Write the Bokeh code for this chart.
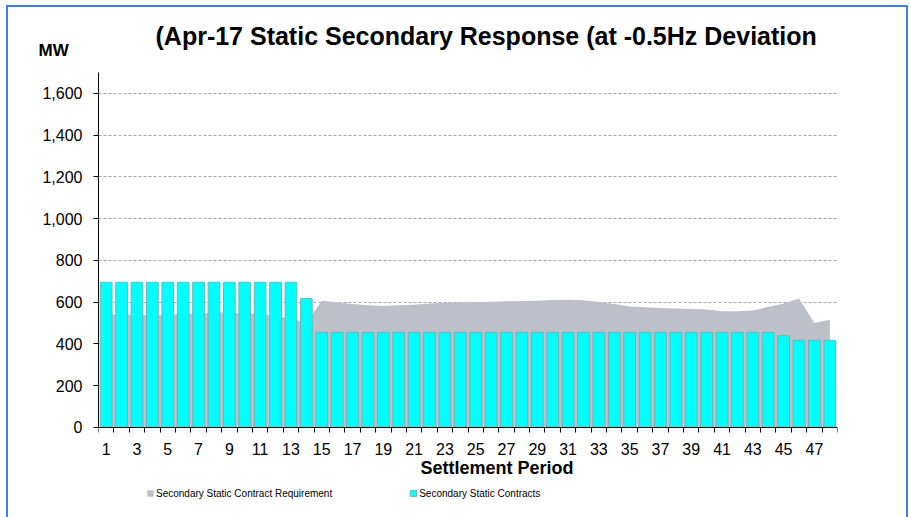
from bokeh.plotting import figure
from bokeh.models import (ColumnDataSource, FixedTicker, NumeralTickFormatter, Legend,
                          LegendItem, Title, Range1d, Label)
from bokeh.embed import file_html
from bokeh.resources import INLINE

periods = list(range(1, 49))
requirement = [540, 542, 539, 536, 540, 544, 545, 549, 551, 545, 544, 535, 522, 500,
               607, 600, 591, 585, 581, 585, 588, 593, 597, 599, 600, 602, 604, 605,
               607, 610, 611, 609, 601, 591, 579, 575, 572, 569, 567, 565, 556, 556,
               560, 577, 593, 617, 500, 516]
contracts = [695] * 13 + [617] + [455] * 30 + [439] + [417] * 3
x_tick_labels = list(range(1, 49, 2))
y_ticks = list(range(0, 1601, 200))

title_text = "(Apr-17 Static Secondary Response (at -0.5Hz Deviation"
series_names = ["Secondary Static Contract Requirement", "Secondary Static Contracts"]

src = ColumnDataSource(dict(x=periods, req=requirement, con=contracts))

# frame extends below the value axis so the axis title and legend can live inside it
FRAME_H = 440
PLOT_H = 334          # pixels between 0 and 1600
Y_TOP = 1700
y_start = Y_TOP - FRAME_H * 1600 / PLOT_H

p = figure(width=898, height=510, output_backend="svg", toolbar_location=None,
           x_range=Range1d(0.5, 48.5), y_range=Range1d(y_start, Y_TOP),
           frame_width=739, frame_height=FRAME_H,
           min_border_left=90, min_border_right=69, min_border_top=65, min_border_bottom=5)
p.styles = {"border-top": "2px solid #3C80E0", "border-left": "2px solid #3C80E0",
            "border-right": "2px solid #3C80E0",
            "position": "relative", "left": "6px", "top": "5px"}
p.outline_line_color = None
p.background_fill_color = "white"

r_area = p.varea(x="x", y1=0, y2="req", source=src, fill_color="#BEC0C9")
r_bar = p.vbar(x="x", top="con", width=0.76, source=src, fill_color="#00FFFF",
               line_color="#6FB5B5", line_width=1)

p.xgrid.visible = False
p.ygrid.ticker = FixedTicker(ticks=y_ticks[1:])
p.ygrid.grid_line_color = "#A6A6A6"
p.ygrid.grid_line_dash = "3 2"
p.ygrid.grid_line_width = 1

ya = p.yaxis[0]
ya.ticker = FixedTicker(ticks=y_ticks)
ya.bounds = (0, Y_TOP)
ya.formatter = NumeralTickFormatter(format="0,0")
ya.major_tick_out = 5
ya.major_tick_in = 0
ya.minor_tick_out = 0
ya.minor_tick_in = 0
ya.axis_line_color = "black"
ya.major_tick_line_color = "black"
ya.major_label_text_font = "Liberation Sans"
ya.major_label_text_font_size = "16px"
ya.major_label_text_color = "black"
ya.major_label_standoff = 11

xa = p.xaxis[0]
xa.fixed_location = 0
xa.ticker = FixedTicker(ticks=x_tick_labels, minor_ticks=[i + 0.5 for i in range(0, 49)])
xa.major_tick_out = 0
xa.major_tick_in = 0
xa.minor_tick_out = 5
xa.minor_tick_in = 0
xa.minor_tick_line_color = "black"
xa.axis_line_color = "black"
xa.major_label_text_font = "Liberation Sans"
xa.major_label_text_font_size = "16px"
xa.major_label_text_color = "black"
xa.major_label_standoff = 11

# main title is the outermost "above" panel; "MW" sits closest to the frame
p.title.text = title_text
p.title.align = "left"
p.title.offset = 57
p.title.standoff = -46
p.title.text_font = "Liberation Sans"
p.title.text_font_style = "bold"
p.title.text_font_size = "25px"
p.title.text_color = "black"

mw_title = Title(text="MW", align="left", offset=-60, standoff=25,
                 text_font="Liberation Sans", text_font_style="bold",
                 text_font_size="17px", text_color="black")
p.add_layout(mw_title, "above")

p.add_layout(Label(x=401, y=45, x_units="screen", y_units="screen",
                   text="Settlement  Period", text_align="center",
                   text_baseline="alphabetic", text_font="Liberation Sans",
                   text_font_style="bold", text_font_size="18px", text_color="black"))

legend = Legend(items=[LegendItem(label=series_names[0], renderers=[r_area]),
                       LegendItem(label=series_names[1], renderers=[r_bar])],
                orientation="horizontal", location=(48, 13), spacing=77,
                glyph_width=8, glyph_height=8, label_standoff=2, padding=0, margin=0,
                border_line_color=None, background_fill_alpha=0,
                label_text_font="Liberation Sans", label_text_font_size="10px",
                label_text_color="black", label_height=12)
p.add_layout(legend)

open("out.html", "w").write(file_html(p, INLINE))
